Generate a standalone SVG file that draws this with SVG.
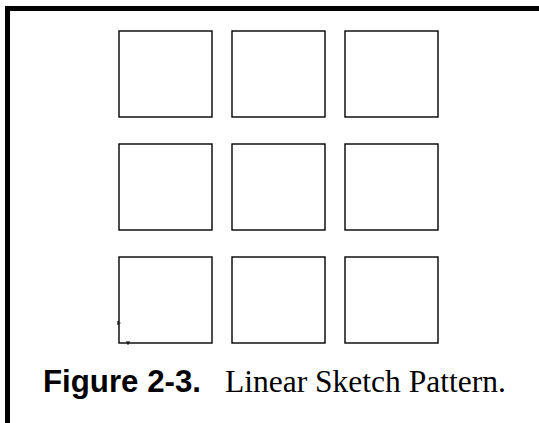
<svg xmlns="http://www.w3.org/2000/svg" width="539" height="423" viewBox="0 0 539 423">
<style>
.sq{fill:#fff;stroke:#000;stroke-width:1.4}
.frame{fill:#000}
.tick{stroke:#000;stroke-width:1.2;fill:none}
.cap1{font-family:"Liberation Sans",Arial,sans-serif;font-weight:bold;font-size:31.5px;fill:#000}
.cap2{font-family:"Liberation Serif","Times New Roman",serif;font-size:31.5px;fill:#000}
</style>
<rect width="539" height="423" fill="#fff"/>
<g id="frame">
<rect class="frame" x="5" y="6" width="534" height="5"/>
<rect class="frame" x="5" y="6" width="5" height="417"/>
</g>
<g id="sq1"><rect class="sq" x="119" y="31" width="93" height="86"/></g>
<g id="sq2"><rect class="sq" x="232" y="31" width="93" height="86"/></g>
<g id="sq3"><rect class="sq" x="345" y="31" width="93" height="86"/></g>
<g id="sq4"><rect class="sq" x="119" y="144" width="93" height="86"/></g>
<g id="sq5"><rect class="sq" x="232" y="144" width="93" height="86"/></g>
<g id="sq6"><rect class="sq" x="345" y="144" width="93" height="86"/></g>
<g id="sq7"><rect class="sq" x="119" y="257" width="93" height="86"/>
<path class="tick" d="M118 321v4M119.5 323h1M126 342h4M127 343.8h2"/></g>
<g id="sq8"><rect class="sq" x="232" y="257" width="93" height="86"/></g>
<g id="sq9"><rect class="sq" x="345" y="257" width="93" height="86"/></g>
<g id="caption">
<text class="cap1" x="43" y="392" textLength="158" lengthAdjust="spacingAndGlyphs">Figure 2-3.</text>
<text class="cap2" x="225" y="392">Linear Sketch Pattern.</text>
</g>
</svg>
